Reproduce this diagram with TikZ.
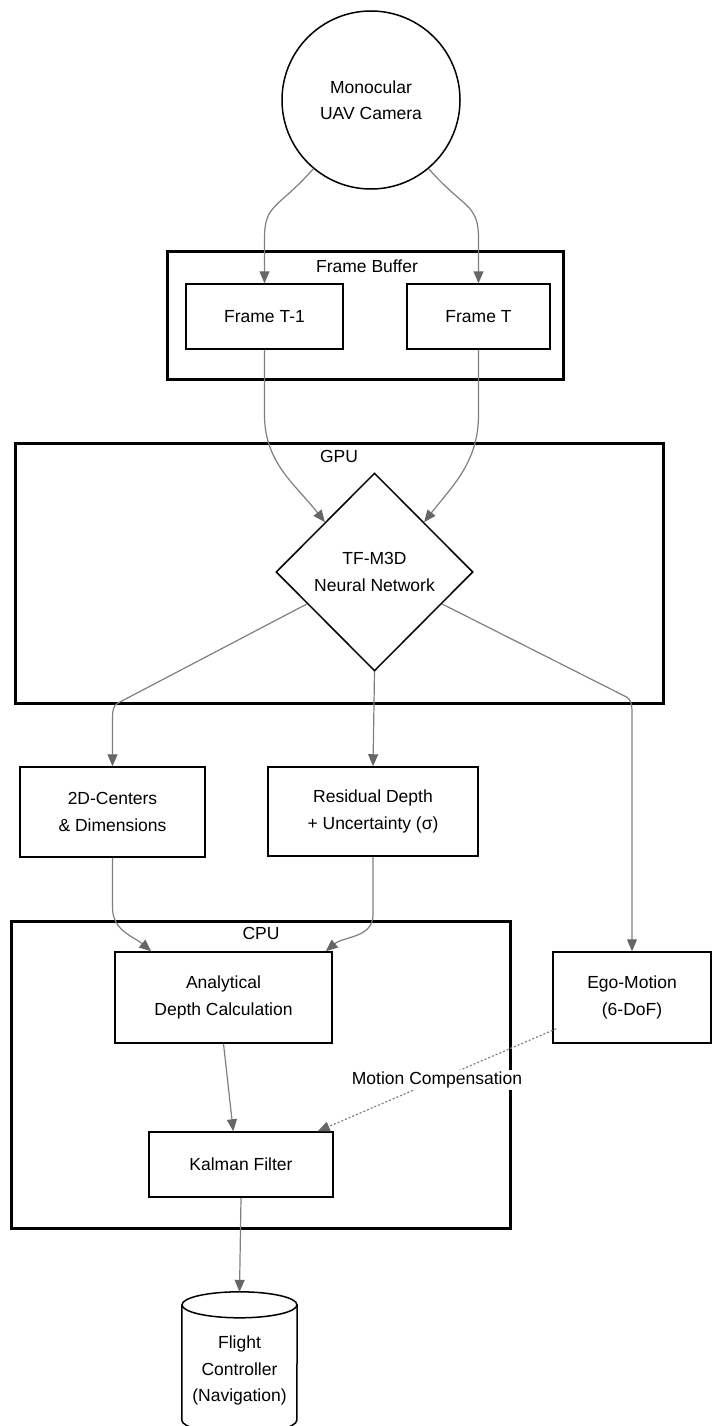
\documentclass[tikz,border=0pt]{standalone}
\usepackage{fontspec}
\setmainfont{Liberation Sans}
\usetikzlibrary{shapes.geometric,arrows.meta,calc}
\definecolor{edgegray}{HTML}{7F7F7F}
\definecolor{tipgray}{HTML}{666666}
\begin{document}
\begin{tikzpicture}[x=1pt, y=1pt,
  every node/.style={font=\fontsize{17.5}{26.5}\selectfont, align=center, inner sep=1pt},
  proc/.style={draw, line width=1.5pt, inner sep=0pt},
  group/.style={draw, line width=3pt, inner sep=0pt},
  flow/.style={draw=edgegray, line width=1.2pt, -{Triangle[length=12pt,width=10pt,color=tipgray]}},
  flowdot/.style={flow, dash pattern=on 2pt off 2pt}]
	\useasboundingbox (0,0) rectangle (712,-1426);
%	clusters
	\node[group, minimum width=396, minimum height=128] (fbgrp) at (365,-315) {};
	\node (fblbl) at (367,-266) {Frame Buffer};
	\node[group, minimum width=648, minimum height=260] (gpugrp) at (339,-573) {};
	\node (gpulbl) at (339,-456) {GPU};
	\node[group, minimum width=499, minimum height=307] (cpugrp) at (260.5,-1074.5) {};
	\node (cpulbl) at (261,-933) {CPU};
%	nodes
	\node[circle, draw, line width=1.5pt, minimum size=178, inner sep=0pt] (cam) at (371,-100) {Monocular\\UAV Camera};
	\node[proc, minimum width=157, minimum height=65] (ft1) at (264.5,-316.5) {Frame T-1};
	\node[proc, minimum width=143, minimum height=65] (ft) at (478.5,-316.5) {Frame T};
	\node[diamond, draw, line width=1.5pt, minimum width=197, minimum height=198, inner sep=0pt] (nn) at (374.5,-572) {TF-M3D\\Neural Network};
	\node[proc, minimum width=185, minimum height=90] (c2d) at (112.5,-812) {2D-Centers\\\& Dimensions};
	\node[proc, minimum width=210, minimum height=89] (res) at (373,-811.5) {Residual Depth\\+ Uncertainty (σ)};
	\node[proc, minimum width=158, minimum height=91] (ego) at (632,-997.5) {Ego-Motion\\(6-DoF)};
	\node[proc, minimum width=217, minimum height=91] (adc) at (223.5,-997.5) {Analytical\\Depth Calculation};
	\node[proc, minimum width=184, minimum height=65] (kf) at (241,-1164.5) {Kalman Filter};
%	flight controller drum
	\node[minimum width=115, minimum height=141, inner sep=0pt] (fc) at (239.5,-1362.5) {};
	\draw[line width=1.5pt] ($(fc.north)+(0,-13)$) ellipse [x radius=57.5, y radius=13];
	\draw[line width=1.5pt] ($(fc.north west)+(0,-13)$) -- ($(fc.south west)+(0,13)$)
		arc[start angle=180, end angle=360, x radius=57.5, y radius=13] -- ($(fc.north east)+(0,-13)$);
	\node (fctxt) at ($(fc.center)+(0,-8)$) {Flight\\Controller\\(Navigation)};
%	edges
	\draw[flow] (cam.230) .. controls +(-35,-40) and +(0,35) .. ($(ft1.north)+(0,45)$) -- (ft1.north);
	\draw[flow] (cam.310) .. controls +(35,-40) and +(0,35) .. ($(ft.north)+(0,45)$) -- (ft.north);
	\draw[flow] (ft1.south) -- ++(0,-65) to[out=-90,in=128] ($(nn.north)!0.5!(nn.west)$);
	\draw[flow] (ft.south) -- ++(0,-65) to[out=-90,in=52] ($(nn.north)!0.5!(nn.east)$);
	\draw[flow] ($(nn.west)!0.32!(nn.south)$) -- ($(c2d.north)+(5,63)$) .. controls +(-4,-2) and +(0,5) .. ($(c2d.north)+(0,50)$) -- (c2d.north);
	\draw[flow] (nn.south) -- (res.north);
	\draw[flow] ($(nn.east)!0.32!(nn.south)$) -- ($(ego.north)+(-5,254)$) .. controls +(4,-2) and +(0,5) .. ($(ego.north)+(0,240)$) -- (ego.north);
	\draw[flow] (c2d.south) -- ++(0,-50) to[out=-90,in=140] ($(adc.north west)+(37,0)$);
	\draw[flow] (res.south) -- ++(0,-58) to[out=-90,in=40] ($(adc.north east)+(-7,0)$);
	\draw[flow] (adc.south) -- ($(kf.north west)+(85,0)$);
	\draw[flowdot] ($(ego.south west)+(4,15)$) -- node[fill=white, inner sep=2pt] (mclbl) {Motion Compensation} ($(kf.north east)+(-16,0)$);
	\draw[flow] (kf.south) -- (fc.north);
\end{tikzpicture}
\end{document}
